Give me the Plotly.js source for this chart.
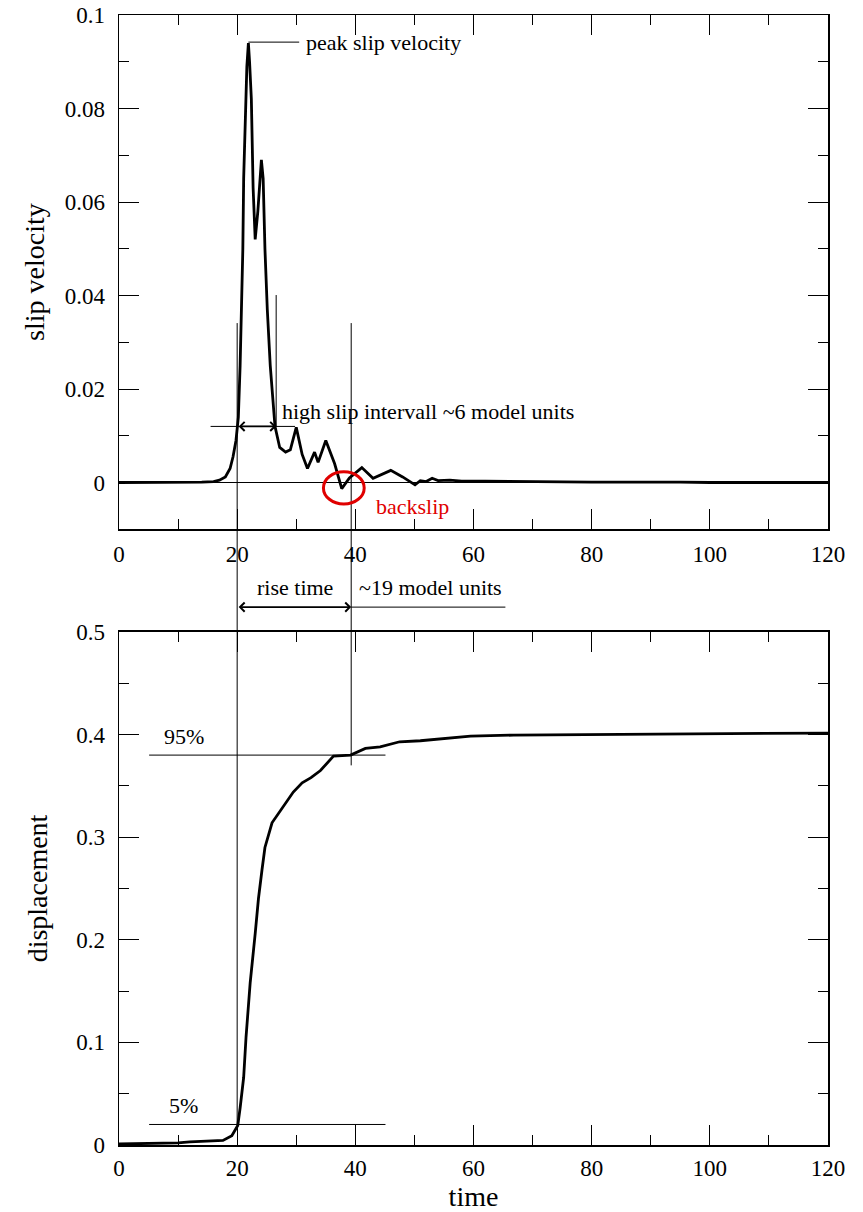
<!DOCTYPE html>
<html>
<head>
<meta charset="utf-8">
<script src="https://cdn.plot.ly/plotly-3.0.1.min.js"></script>
<style>html,body{margin:0;padding:0;background:#fff;}</style>
</head>
<body>
<div id="chart" style="width:863px;height:1212px;"></div>
<script>
// ---- data ----
const velTime = [0,10,14,16,17,18,18.8,19.3,19.8,20.2,20.5,20.96,21.1,21.64,21.9,22.1,22.4,22.7,23.05,23.5,23.9,24.1,24.4,24.7,25.1,25.6,26.4,27.2,28.2,29,30,31,31.9,33.1,33.7,35,36.5,37.7,39,41.1,43,46,48,50.1,51,52,53,54,56,58,62,70,80,95,100,120];
const slipVelocity = [0,0,0.0001,0.0002,0.0005,0.0012,0.003,0.0055,0.009,0.014,0.025,0.05,0.065,0.089,0.094,0.09,0.082,0.063,0.052,0.058,0.066,0.069,0.065,0.05,0.037,0.025,0.012,0.0075,0.0065,0.007,0.0118,0.006,0.003,0.0065,0.0043,0.009,0.004,-0.0013,0.001,0.0032,0.0009,0.0026,0.0012,-0.0005,0.0004,0.0002,0.0009,0.0004,0.0005,0.0003,0.0003,0.0002,0.0001,0.0001,0,0];

const dispTime = [0,5,10,12,15,17.6,19.1,20.1,20.5,21.1,21.5,22.2,23.05,23.6,24.2,24.7,25.9,27.5,29.5,31,32.5,34.1,35.2,36.3,39.2,40.5,41.7,44.2,45.4,47.5,51,55,59.5,66.8,80,100,120];
const displacement = [0.001,0.0015,0.002,0.003,0.0035,0.0045,0.009,0.019,0.036,0.066,0.105,0.158,0.206,0.24,0.268,0.29,0.314,0.327,0.344,0.353,0.358,0.365,0.372,0.379,0.38,0.383,0.3865,0.388,0.39,0.393,0.394,0.396,0.3985,0.3995,0.4,0.401,0.4015];

const xTicks = [0,20,40,60,80,100,120];
const velTicks = [0,0.02,0.04,0.06,0.08,0.1];
const dispTicks = [0,0.1,0.2,0.3,0.4,0.5];

// annotation markers (data coordinates)
const peakVel = 0.0942, peakT = 21.9;
const riseStart = 20, riseEnd = 39.3;   // 5% and 95% times
const highSlipEnd = 26.6, highSlipLevel = 0.012;
const level5 = 0.02, level95 = 0.38;

// ---- layout geometry ----
const xRange = [0,120];
const velRange = [-0.01,0.1];
const dispRange = [0,0.5];
const topDom = [0.5449,1];
const botDom = [0,0.454];
const FONT = "'Liberation Serif', 'Times New Roman', serif";

function px(x){ return (x - xRange[0])/(xRange[1]-xRange[0]); }
function pyTop(v){ return topDom[0] + (v-velRange[0])/(velRange[1]-velRange[0])*(topDom[1]-topDom[0]); }
function pyBot(v){ return botDom[0] + (v-dispRange[0])/(dispRange[1]-dispRange[0])*(botDom[1]-botDom[0]); }

const traces = [
  {x: velTime, y: slipVelocity, xaxis:'x', yaxis:'y', mode:'lines', line:{color:'black', width:2.8}, hoverinfo:'skip'},
  {x: dispTime, y: displacement, xaxis:'x2', yaxis:'y2', mode:'lines', line:{color:'black', width:2.8}, hoverinfo:'skip'}
];

function axisBase(){
  return {
    showline:true, mirror:'ticks', linecolor:'black', linewidth:1.5,
    ticks:'inside', ticklen:20, tickwidth:1, tickcolor:'black',
    showgrid:false, zeroline:false,
    tickfont:{family:FONT, size:23, color:'black'}
  };
}

const xaxis = Object.assign(axisBase(), {range:xRange, domain:[0,1], anchor:'y', tickmode:'array', tickvals:xTicks, ticklabelstandoff:4,
  minor:{tickmode:'linear', tick0:0, dtick:10, ticks:'inside', ticklen:10, tickcolor:'black', tickwidth:1, showgrid:false}});
const xaxis2 = Object.assign(axisBase(), {range:xRange, domain:[0,1], anchor:'y2', tickmode:'array', tickvals:xTicks, ticklabelstandoff:2,
  minor:{tickmode:'linear', tick0:0, dtick:10, ticks:'inside', ticklen:10, tickcolor:'black', tickwidth:1, showgrid:false},
  title:{text:'time', font:{family:FONT, size:28, color:'black'}, standoff:9}});
const yaxis = Object.assign(axisBase(), {range:velRange, domain:topDom, anchor:'x', tickmode:'array', tickvals:velTicks, ticklabelstandoff:8,
  zeroline:true, zerolinecolor:'black', zerolinewidth:1,
  minor:{tickmode:'linear', tick0:0, dtick:0.01, ticks:'inside', ticklen:10, tickcolor:'black', tickwidth:1, showgrid:false},
  title:{text:'slip velocity', font:{family:FONT, size:28, color:'black'}, standoff:12}});
const yaxis2 = Object.assign(axisBase(), {range:dispRange, domain:botDom, anchor:'x2', tickmode:'array', tickvals:dispTicks, ticklabelstandoff:8,
  minor:{tickmode:'linear', tick0:0, dtick:0.05, ticks:'inside', ticklen:10, tickcolor:'black', tickwidth:1, showgrid:false},
  title:{text:'displacement', font:{family:FONT, size:28, color:'black'}, standoff:20}});

const thin = {color:'black', width:1};
const shapes = [
  // peak marker line
  {type:'line', xref:'x', yref:'y', x0:peakT, x1:30.5, y0:peakVel, y1:peakVel, line:thin},
  // vertical at start of rise (spans both panels)
  {type:'line', xref:'paper', yref:'paper', x0:px(riseStart), x1:px(riseStart), y0:pyTop(0.0341), y1:pyBot(level5), line:thin},
  // vertical at end of high slip interval
  {type:'line', xref:'x', yref:'y', x0:highSlipEnd, x1:highSlipEnd, y0:0.0401, y1:highSlipLevel, line:thin},
  // vertical at end of rise
  {type:'line', xref:'paper', yref:'paper', x0:px(riseEnd), x1:px(riseEnd), y0:pyTop(0.0341), y1:pyBot(0.370), line:thin},
  // high slip horizontal line
  {type:'line', xref:'x', yref:'y', x0:15.5, x1:29.8, y0:highSlipLevel, y1:highSlipLevel, line:thin},
  // rise time extension line
  {type:'line', xref:'paper', yref:'paper', x0:px(riseEnd), x1:px(65.4), y0:0.476, y1:0.476, line:thin},
  // 95% and 5% lines
  {type:'line', xref:'x2', yref:'y2', x0:5.1, x1:45.1, y0:level95, y1:level95, line:thin},
  {type:'line', xref:'x2', yref:'y2', x0:5.1, x1:45.1, y0:level5, y1:level5, line:thin},
  // backslip circle
  {type:'circle', xref:'x', yref:'y', x0:34.6, x1:41.5, y0:-0.0046, y1:0.0023, line:{color:'#e00000', width:3}}
];

const tf = {family:FONT, size:22, color:'black'};
const annotations = [
  {xref:'x', yref:'y', x:31.3, y:peakVel, text:'peak slip velocity', showarrow:false, xanchor:'left', yanchor:'middle', font:tf},
  {xref:'x', yref:'y', x:27.3, y:0.0152, text:'high slip intervall ~6 model units', showarrow:false, xanchor:'left', yanchor:'middle', font:tf},
  {xref:'x', yref:'y', x:43.2, y:-0.0052, text:'backslip', showarrow:false, xanchor:'left', yanchor:'middle', font:{family:FONT, size:22, color:'#e00000'}},
  {xref:'x', yref:'y', x:highSlipEnd, y:highSlipLevel, ax:riseStart, ay:highSlipLevel, axref:'x', ayref:'y', text:'', showarrow:true,
    arrowside:'end+start', arrowhead:4, startarrowhead:4, arrowsize:1.1, startarrowsize:1.1, arrowwidth:1.6, arrowcolor:'black', standoff:0, startstandoff:0},
  {xref:'x', yref:'paper', x:riseEnd, y:0.476, ax:riseStart, ay:0, axref:'x', ayref:'pixel', text:'', showarrow:true,
    arrowside:'end+start', arrowhead:4, startarrowhead:4, arrowsize:1.1, startarrowsize:1.1, arrowwidth:1.6, arrowcolor:'black', standoff:0, startstandoff:0},
  {xref:'x', yref:'paper', x:29.8, y:0.493, text:'rise time', showarrow:false, xanchor:'center', yanchor:'middle', font:tf},
  {xref:'x', yref:'paper', x:40.3, y:0.493, text:'~19 model units', showarrow:false, xanchor:'left', yanchor:'middle', font:tf},
  {xref:'x2', yref:'y2', x:7.3, y:0.398, text:'95%', showarrow:false, xanchor:'left', yanchor:'middle', font:tf},
  {xref:'x2', yref:'y2', x:8.2, y:0.0385, text:'5%', showarrow:false, xanchor:'left', yanchor:'middle', font:tf}
];

const layout = {
  width:863, height:1212,
  margin:{l:119, r:35, t:15, b:67},
  paper_bgcolor:'white', plot_bgcolor:'white',
  showlegend:false,
  font:{family:FONT, color:'black'},
  xaxis:xaxis, yaxis:yaxis, xaxis2:xaxis2, yaxis2:yaxis2,
  shapes:shapes, annotations:annotations
};

Plotly.newPlot('chart', traces, layout, {staticPlot:true, displayModeBar:false});
</script>
</body>
</html>
